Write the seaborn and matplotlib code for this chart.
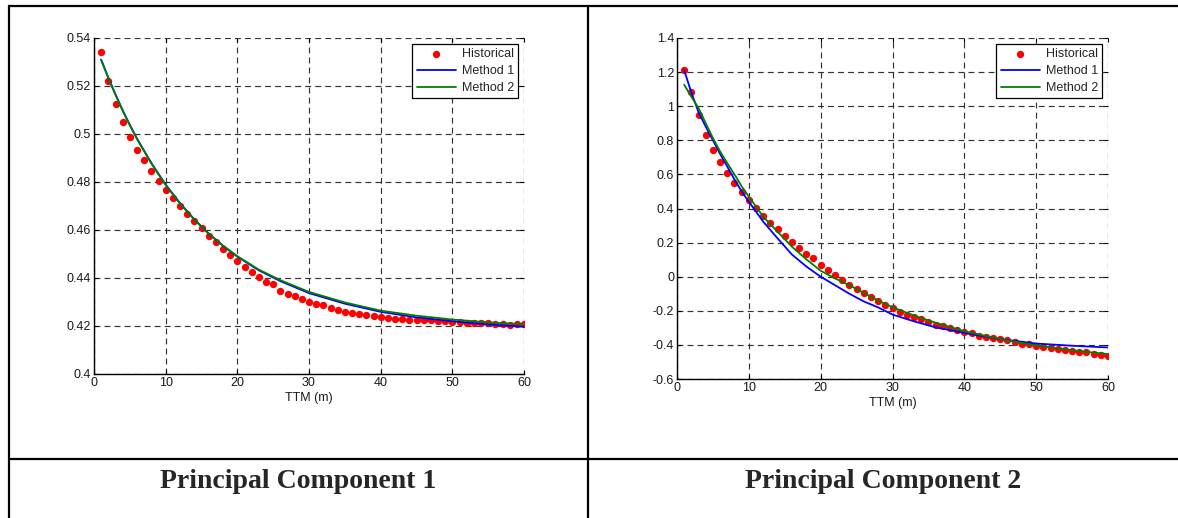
import numpy as np
import pandas as pd
import matplotlib
matplotlib.use("Agg")
import matplotlib.pyplot as plt
from matplotlib.lines import Line2D
import seaborn as sns

# ---------------- data ----------------
ttm = list(range(1, 61))

hist_pc1 = [0.5342, 0.5220, 0.5125, 0.5050, 0.4989, 0.4935, 0.4891, 0.4845, 0.4805, 0.4765,
            0.4732, 0.4700, 0.4667, 0.4639, 0.4609, 0.4577, 0.4548, 0.4520, 0.4495, 0.4470,
            0.4446, 0.4423, 0.4404, 0.4385, 0.4374, 0.4347, 0.4335, 0.4324, 0.4313, 0.4302,
            0.4293, 0.4286, 0.4277, 0.4268, 0.4260, 0.4255, 0.4252, 0.4245, 0.4241, 0.4237,
            0.4234, 0.4231, 0.4231, 0.4227, 0.4227, 0.4224, 0.4224, 0.4220, 0.4220, 0.4217,
            0.4216, 0.4212, 0.4212, 0.4213, 0.4212, 0.4210, 0.4208, 0.4205, 0.4210, 0.4208]

line_x_pc1 = [1, 2, 3, 4, 5, 6, 8, 10, 12, 14, 16, 18, 20, 23, 26, 30, 35, 40, 45, 50, 55, 60]
m1_pc1 = [0.5310, 0.5235, 0.5165, 0.5099, 0.5038, 0.4981, 0.4879, 0.4789, 0.4712, 0.4644, 0.4585,
          0.4534, 0.4489, 0.4432, 0.4387, 0.4337, 0.4293, 0.4259, 0.4236, 0.4220, 0.4206, 0.4197]
m2_pc1 = [0.5308, 0.5233, 0.5163, 0.5097, 0.5036, 0.4979, 0.4877, 0.4787, 0.4710, 0.4643, 0.4585,
          0.4535, 0.4491, 0.4435, 0.4391, 0.4342, 0.4298, 0.4264, 0.4243, 0.4227, 0.4215, 0.4207]

hist_pc2 = [1.211, 1.083, 0.946, 0.829, 0.742, 0.672, 0.607, 0.551, 0.496, 0.448,
            0.401, 0.354, 0.315, 0.278, 0.239, 0.204, 0.169, 0.134, 0.107, 0.070,
            0.041, 0.011, -0.020, -0.049, -0.072, -0.096, -0.117, -0.142, -0.166, -0.185,
            -0.205, -0.222, -0.238, -0.251, -0.267, -0.281, -0.290, -0.300, -0.314, -0.322,
            -0.333, -0.345, -0.351, -0.357, -0.366, -0.372, -0.384, -0.392, -0.397, -0.405,
            -0.413, -0.419, -0.425, -0.431, -0.436, -0.440, -0.442, -0.454, -0.460, -0.464]

line_x_pc2 = [1, 2, 3, 4, 5, 6, 7, 8, 9, 10, 12, 14, 16, 18, 20, 22, 24, 26, 28, 30,
              33, 36, 40, 45, 50, 55, 60]
m1_pc2 = [1.211, 1.080, 0.965, 0.880, 0.800, 0.720, 0.646, 0.570, 0.500, 0.440, 0.323, 0.225,
          0.130, 0.060, 0.000, -0.050, -0.100, -0.145, -0.180, -0.222, -0.262, -0.297,
          -0.330, -0.366, -0.392, -0.405, -0.415]
m2_pc2 = [1.126, 1.055, 0.989, 0.900, 0.813, 0.735, 0.666, 0.600, 0.530, 0.470, 0.352, 0.264,
          0.176, 0.102, 0.035, -0.010, -0.050, -0.095, -0.140, -0.179, -0.228, -0.270,
          -0.320, -0.366, -0.403, -0.432, -0.454]

x_ticks = [0, 10, 20, 30, 40, 50, 60]
pc1_yticks = [0.40, 0.42, 0.44, 0.46, 0.48, 0.50, 0.52, 0.54]
pc1_yticklabels = ["0.4", "0.42", "0.44", "0.46", "0.48", "0.5", "0.52", "0.54"]
pc2_yticks = [-0.6, -0.4, -0.2, 0.0, 0.2, 0.4, 0.6, 0.8, 1.0, 1.2, 1.4]
pc2_yticklabels = ["-0.6", "-0.4", "-0.2", "0", "0.2", "0.4", "0.6", "0.8", "1", "1.2", "1.4"]

captions = ["Principal Component 1", "Principal Component 2"]
legend_labels = ["Historical", "Method 1", "Method 2"]
x_label = "TTM (m)"

# ---------------- style ----------------
sns.set_style("white")
plt.rcParams["font.family"] = ["Liberation Sans", "DejaVu Sans"]

W, H = 1178, 518
fig = plt.figure(figsize=(W / 100, H / 100), dpi=100)


def px_rect(x0, y0, x1, y1):
    return [x0 / W, 1 - y1 / H, (x1 - x0) / W, (y1 - y0) / H]


ax1 = fig.add_axes(px_rect(94, 38, 524, 374))
ax2 = fig.add_axes(px_rect(677, 38, 1108, 379))

FS = 9


def draw_panel(ax, hist, lx, m1, m2, yticks, yticklabels):
    df_h = pd.DataFrame({"ttm": ttm, "val": hist})
    df_1 = pd.DataFrame({"ttm": lx, "val": m1})
    df_2 = pd.DataFrame({"ttm": lx, "val": m2})
    sns.scatterplot(data=df_h, x="ttm", y="val", ax=ax, color="#ff0000", s=28,
                    linewidth=0, label=legend_labels[0], zorder=2)
    sns.lineplot(data=df_1, x="ttm", y="val", ax=ax, color="#0000ff", lw=1.3,
                 label=legend_labels[1], zorder=3)
    sns.lineplot(data=df_2, x="ttm", y="val", ax=ax, color="#008000", lw=1.3,
                 label=legend_labels[2], zorder=4)
    ax.set_xlim(0, 60)
    ax.set_ylim(yticks[0], yticks[-1])
    ax.set_xticks(x_ticks)
    ax.set_xticklabels([str(t) for t in x_ticks])
    ax.set_yticks(yticks)
    ax.set_yticklabels(yticklabels)
    ax.set_xlabel(x_label, fontsize=FS, labelpad=2, color="0.1")
    ax.set_ylabel("")
    ax.grid(True, color="0.2", linestyle=(0, (5, 3.5)), linewidth=0.85)
    ax.set_axisbelow(True)
    for side in ["top", "right"]:
        ax.spines[side].set_visible(False)
    for side in ["left", "bottom"]:
        ax.spines[side].set_visible(True)
        ax.spines[side].set_color("black")
        ax.spines[side].set_linewidth(1.0)
    ax.tick_params(axis="both", direction="in", length=3, width=0.8, labelsize=FS,
                   top=True, right=True, bottom=True, left=True, pad=2, colors="black")
    ax.tick_params(axis="both", labelcolor="0.1")
    leg = ax.legend(loc="upper right", fontsize=FS, frameon=True, fancybox=False,
                    framealpha=1, edgecolor="black", handlelength=3.1,
                    borderaxespad=0.45, scatterpoints=1, borderpad=0.35,
                    handletextpad=0.5, labelspacing=0.4)
    leg.get_frame().set_linewidth(0.9)


draw_panel(ax1, hist_pc1, line_x_pc1, m1_pc1, m2_pc1, pc1_yticks, pc1_yticklabels)
draw_panel(ax2, hist_pc2, line_x_pc2, m1_pc2, m2_pc2, pc2_yticks, pc2_yticklabels)

# ---------------- table borders ----------------
def fline(x0, y0, x1, y1):
    fig.add_artist(Line2D([x0 / W, x1 / W], [1 - y0 / H, 1 - y1 / H],
                          color="black", linewidth=1.6, solid_capstyle="butt"))


fline(8, 5.5, W, 5.5)
fline(8.5, 5, 8.5, H)
fline(588, 5, 588, H)
fline(8, 459, W, 459)

# ---------------- captions ----------------
fig.text(298 / W, 1 - 481 / H, captions[0], ha="center", va="center",
         fontsize=20, fontweight="bold", family=["Liberation Serif", "DejaVu Serif"])
fig.text(883 / W, 1 - 481 / H, captions[1], ha="center", va="center",
         fontsize=20, fontweight="bold", family=["Liberation Serif", "DejaVu Serif"])

fig.savefig("out.png", dpi=100)
